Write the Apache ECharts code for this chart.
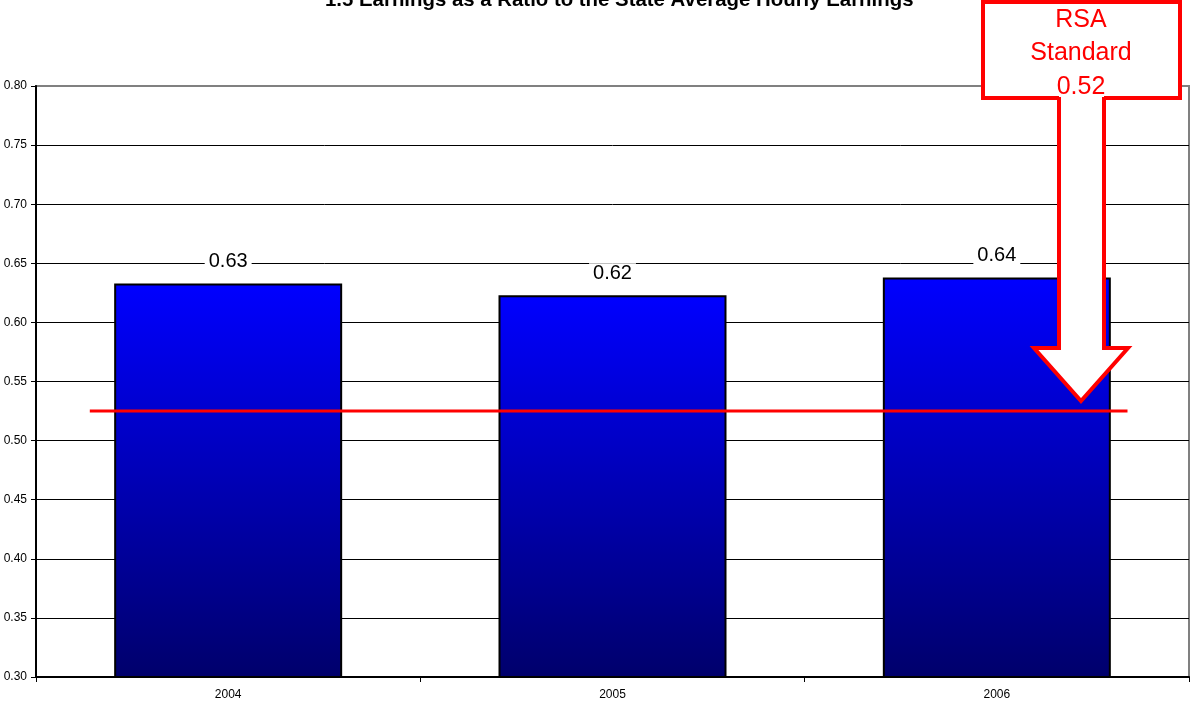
<!DOCTYPE html>
<html>
<head>
<meta charset="utf-8">
<script src="https://cdn.jsdelivr.net/npm/echarts@6/dist/echarts.min.js"></script>
<style>
html,body{margin:0;padding:0;background:#fff;}
#chart{width:1190px;height:704px;}
</style>
</head>
<body>
<div id="chart"></div>
<script>
const titleText = '1.5 Earnings as a Ratio to the State Average Hourly Earnings';
const categories = ['2004', '2005', '2006'];
const ratioValues = [0.633, 0.623, 0.638];
const rsaStandardLine = [[-0.36, 0.525], [2.34, 0.525]];
const annotationLines = ['RSA', 'Standard', '0.52'];

const FONT = '"Liberation Sans", Arial, sans-serif';
const chart = echarts.init(document.getElementById('chart'));

const option = {
  animation: false,
  backgroundColor: '#fff',
  textStyle: { fontFamily: FONT },
  title: {
    text: titleText,
    left: 325,
    top: -10,
    padding: 0,
    textStyle: { fontFamily: FONT, fontSize: 20.4, fontWeight: 'bold', color: '#000' }
  },
  grid: {
    left: 36, right: 1, top: 86, bottom: 27,
    show: true, borderColor: '#808080', borderWidth: 2, backgroundColor: '#fff'
  },
  xAxis: [
    {
      type: 'category',
      data: categories,
      boundaryGap: true,
      axisLine: { onZero: false, lineStyle: { color: '#000', width: 2 } },
      axisTick: { show: true, length: 5, interval: 0, lineStyle: { color: '#000' } },
      axisLabel: { color: '#000', fontSize: 12, margin: 12, fontFamily: FONT },
      splitLine: { show: false }
    },
    {
      type: 'value', min: -0.5, max: 2.5, show: false,
      axisLine: { show: false, onZero: false }
    }
  ],
  yAxis: {
    type: 'value',
    min: 0.3, max: 0.8, interval: 0.05,
    axisLine: { show: true, onZero: false, lineStyle: { color: '#000', width: 2 } },
    axisTick: { show: true, length: 5, lineStyle: { color: '#000' } },
    axisLabel: { color: '#000', fontSize: 12, margin: 9, fontFamily: FONT,
      formatter: v => v.toFixed(2) },
    splitLine: { show: true, showMaxLine: false, lineStyle: { color: '#000', width: 1 } }
  },
  series: [
    {
      type: 'bar',
      data: ratioValues,
      barWidth: 228,
      itemStyle: {
        color: new echarts.graphic.LinearGradient(0, 0, 0, 1, [
          { offset: 0, color: '#0000ff' },
          { offset: 1, color: '#00006b' }
        ]),
        borderColor: '#000',
        borderWidth: 2
      },
      label: {
        show: true,
        position: 'top',
        distance: 12,
        formatter: p => p.value.toFixed(2),
        fontSize: 20,
        color: '#000',
        fontFamily: FONT,
        backgroundColor: '#fff',
        padding: [0, 4]
      },
      z: 2
    },
    {
      type: 'line',
      xAxisIndex: 1,
      data: rsaStandardLine,
      symbol: 'none',
      lineStyle: { color: '#ff0000', width: 3 },
      z: 3
    }
  ],
  graphic: [
    {
      type: 'rect', z: 100,
      shape: { x: 983, y: 2, width: 197, height: 96 },
      style: { fill: '#fff', stroke: '#ff0000', lineWidth: 4 }
    },
    {
      type: 'polygon', z: 101,
      shape: { points: [[1059, 95], [1104, 95], [1104, 348], [1128, 348], [1081, 400], [1034, 348], [1059, 348]] },
      style: { fill: '#fff', stroke: null }
    },
    {
      type: 'polyline', z: 102,
      shape: { points: [[1059, 97], [1059, 348], [1034, 348], [1081, 401], [1128, 348], [1104, 348], [1104, 97]] },
      style: { fill: null, stroke: '#ff0000', lineWidth: 4 }
    },
    {
      type: 'text', z: 103,
      x: 1081, y: 20,
      style: { text: annotationLines[0], fill: '#ff0000', font: '25px ' + FONT, align: 'center', verticalAlign: 'middle' }
    },
    {
      type: 'text', z: 103,
      x: 1081, y: 53,
      style: { text: annotationLines[1], fill: '#ff0000', font: '25px ' + FONT, align: 'center', verticalAlign: 'middle' }
    },
    {
      type: 'text', z: 103,
      x: 1081, y: 87,
      style: { text: annotationLines[2], fill: '#ff0000', font: '25px ' + FONT, align: 'center', verticalAlign: 'middle' }
    }
  ]
};
chart.setOption(option);
</script>
</body>
</html>
